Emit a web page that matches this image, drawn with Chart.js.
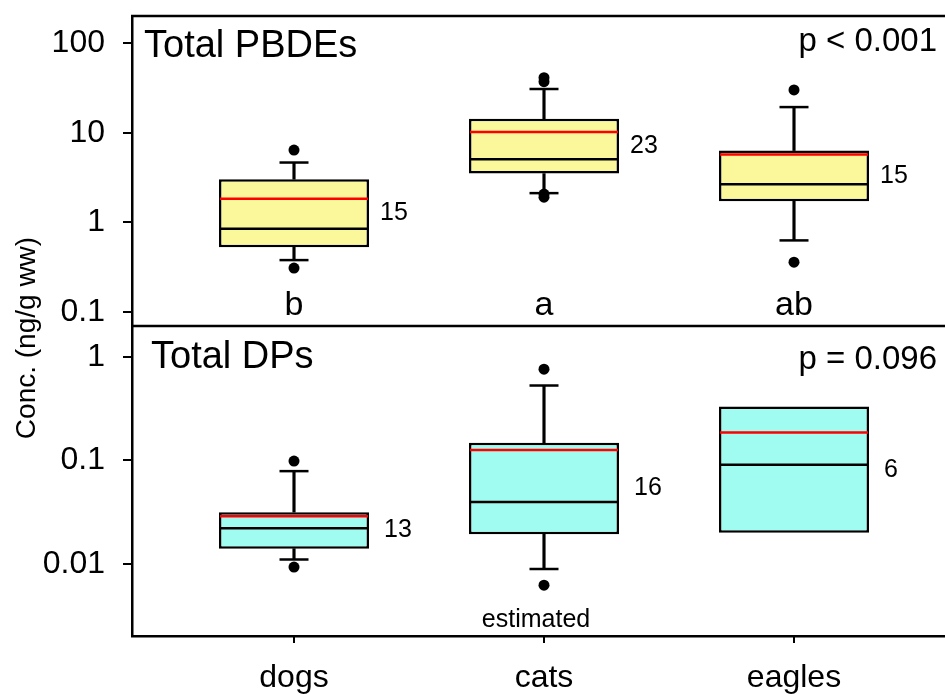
<!DOCTYPE html>
<html>
<head>
<meta charset="utf-8">
<script src="https://cdn.jsdelivr.net/npm/chart.js@4.4.1/dist/chart.umd.min.js"></script>
<style>
  html, body { margin: 0; padding: 0; background: #fff; overflow: hidden; width: 945px; height: 694px; }
  #wrap { width: 945px; height: 694px; overflow: hidden; position: relative; }
  canvas { display: block; position: absolute; left: 0; top: 0; }
</style>
</head>
<body>
<div id="wrap"><canvas id="chart" width="1000" height="694"></canvas></div>
<script>
// categorias y valores
const categories = ['dogs', 'cats', 'eagles'];

// Total PBDEs (ng/g ww)
const pbdeQ1 = [0.53, 3.5, 1.72];
const pbdeQ3 = [3.03, 14.3, 6.33];
const pbdeMedian = [0.85, 5.07, 2.67];
const pbdeMean = [1.84, 10.2, 5.71];
const pbdeWhiskerLo = [0.38, 2.12, 0.63];
const pbdeWhiskerHi = [4.65, 30.7, 19.3];
const pbdeOutliers = [[6.4, 0.31], [41, 37, 2.07, 1.91], [30, 0.36]];
const pbdeN = [15, 23, 15];
const pbdeLetters = ['b', 'a', 'ab'];

// Total DPs (ng/g ww)
const dpQ1 = [0.014, 0.0193, 0.020];
const dpQ3 = [0.0316, 0.148, 0.332];
const dpMedian = [0.0221, 0.0395, 0.0906];
const dpMean = [0.0289, 0.126, 0.186];
const dpWhiskerLo = [0.011, 0.0089, null];
const dpWhiskerHi = [0.0788, 0.531, null];
const dpOutliers = [[0.0985, 0.0093], [0.765, 0.0062], []];
const dpN = [13, 16, 6];

const topTicks = [0.1, 1, 10, 100];
const bottomTicks = [0.01, 0.1, 1];

const FONT = "'Liberation Sans', Arial, sans-serif";
Chart.defaults.color = '#000';
Chart.defaults.font.family = FONT;

// Construye los datasets de un panel de cajas
function boxDatasets(axis, fill, q1, q3, med, mean, lo, hi, outliers) {
    const stems = [], caps = [], dots = [];
    categories.forEach((c, i) => {
        if (hi[i] != null) {
            stems.push({x: i + 1, y: [q3[i], hi[i]]}, {x: i + 1, y: [lo[i], q1[i]]});
            caps.push({x: i + 1, y: hi[i]}, {x: i + 1, y: lo[i]});
        }
        outliers[i].forEach(v => dots.push({x: i + 1, y: v}));
    });
    return [
        {
            type: 'bar', xAxisID: 'x', yAxisID: axis,
            data: categories.map((c, i) => ({x: i + 1, y: [q1[i], q3[i]]})),
            backgroundColor: fill, borderColor: '#000', borderWidth: 2.5, borderSkipped: false,
            grouped: false, categoryPercentage: 1, barPercentage: 0.6, order: 5
        },
        {
            type: 'bar', xAxisID: 'x', yAxisID: axis, data: stems,
            backgroundColor: '#000', borderWidth: 0, barThickness: 2.5, grouped: false, order: 6
        },
        {
            type: 'scatter', xAxisID: 'x', yAxisID: axis, data: caps, showLine: false,
            pointStyle: 'line', pointRadius: 14.5, pointBorderWidth: 2.5, pointBorderColor: '#000', order: 3
        },
        {
            type: 'scatter', xAxisID: 'x', yAxisID: axis, data: categories.map((c, i) => ({x: i + 1, y: med[i]})), showLine: false,
            pointStyle: 'line', pointRadius: 74, pointBorderWidth: 2.5, pointBorderColor: '#000', order: 2
        },
        {
            type: 'scatter', xAxisID: 'x', yAxisID: axis, data: categories.map((c, i) => ({x: i + 1, y: mean[i]})), showLine: false,
            pointStyle: 'line', pointRadius: 74, pointBorderWidth: 2.5, pointBorderColor: '#ff0000', order: 1
        },
        {
            type: 'scatter', xAxisID: 'x', yAxisID: axis, data: dots, showLine: false,
            pointStyle: 'circle', pointRadius: 5.5, pointBorderWidth: 0, pointBackgroundColor: '#000', order: 0
        }
    ];
}

const datasets = [
    ...boxDatasets('yTop', '#fbf89b', pbdeQ1, pbdeQ3, pbdeMedian, pbdeMean, pbdeWhiskerLo, pbdeWhiskerHi, pbdeOutliers),
    ...boxDatasets('yBot', '#a0fcf0', dpQ1, dpQ3, dpMedian, dpMean, dpWhiskerLo, dpWhiskerHi, dpOutliers)
];

// Textos del grafico (titulos, n, letras, p)
const annotate = {
    id: 'annotate',
    afterDraw(chart) {
        const {ctx, chartArea, scales} = chart;
        const yt = scales.yTop, yb = scales.yBot, x = scales.x;
        ctx.save();
        ctx.strokeStyle = '#000';
        ctx.lineWidth = 2.5;
        [yt.top, yt.bottom].forEach(py => {
            ctx.beginPath();
            ctx.moveTo(chartArea.left - 1, py);
            ctx.lineTo(chartArea.right, py);
            ctx.stroke();
        });
        // marcas del eje x bajo cada categoria
        ctx.lineWidth = 2;
        categories.forEach((c, i) => {
            const px = Math.round(x.getPixelForValue(i + 1));
            ctx.beginPath();
            ctx.moveTo(px, chartArea.bottom);
            ctx.lineTo(px, chartArea.bottom + 7);
            ctx.stroke();
        });

        ctx.fillStyle = '#000';
        ctx.textBaseline = 'alphabetic';
        ctx.font = '38px ' + FONT;
        ctx.textAlign = 'left';
        ctx.fillText('Total PBDEs', chartArea.left + 12, yt.top + 41);
        ctx.fillText('Total DPs', chartArea.left + 19, yb.top + 42);

        ctx.font = '33px ' + FONT;
        ctx.textAlign = 'right';
        ctx.fillText('p < 0.001', 937, yt.top + 35);
        ctx.fillText('p = 0.096', 937, yb.top + 43);

        // n junto a cada caja, a media altura (log) de la caja
        const nLabels = (axisScale, metaIdx, q1, q3, ns, gap) => {
            const meta = chart.getDatasetMeta(metaIdx);
            ctx.font = '25px ' + FONT;
            ctx.textAlign = 'left';
            ctx.textBaseline = 'middle';
            ns.forEach((n, i) => {
                const bar = meta.data[i];
                const mid = Math.sqrt(q1[i] * q3[i]);
                ctx.fillText(String(n), bar.x + bar.width / 2 + gap, axisScale.getPixelForValue(mid));
            });
        };
        nLabels(yt, 0, pbdeQ1, pbdeQ3, pbdeN, 11);
        nLabels(yb, 6, dpQ1, dpQ3, dpN, 15);

        ctx.font = '34px ' + FONT;
        ctx.textAlign = 'center';
        ctx.textBaseline = 'alphabetic';
        pbdeLetters.forEach((l, i) => {
            ctx.fillText(l, x.getPixelForValue(i + 1), yt.bottom - 11);
        });

        ctx.font = '25px ' + FONT;
        ctx.fillText('estimated', x.getPixelForValue(2) - 8, yb.bottom - 9);

        ctx.translate(27, 338);
        ctx.rotate(-Math.PI / 2);
        ctx.font = '28px ' + FONT;
        ctx.textBaseline = 'middle';
        ctx.fillText('Conc. (ng/g ww)', 0, 0);
        ctx.restore();
    }
};

const noPadding = s => {
    s.paddingTop = 0; s.paddingBottom = 0; s.paddingLeft = 0; s.paddingRight = 0;
};

const yAxis = (min, max, ticks) => ({
    type: 'logarithmic',
    position: 'left',
    stack: 'panels',
    stackWeight: 1,
    min: min,
    max: max,
    afterBuildTicks: s => { s.ticks = ticks.map(v => ({value: v})); },
    afterFit: s => { s.width = 132; noPadding(s); },
    ticks: {
        autoSkip: false,
        font: {size: 32},
        padding: 18,
        callback: v => String(v)
    },
    grid: {drawOnChartArea: false, tickLength: 9, color: '#000', lineWidth: 2},
    border: {display: true, color: '#000', width: 2.5}
});

new Chart(document.getElementById('chart'), {
    type: 'bar',
    data: {datasets: datasets},
    options: {
        responsive: false,
        animation: false,
        events: [],
        layout: {autoPadding: false, padding: {top: 16, left: 0, right: 0, bottom: 0}},
        plugins: {legend: {display: false}, tooltip: {enabled: false}},
        scales: {
            // el eje definido primero queda abajo en la pila
            yBot: yAxis(0.002, 2, bottomTicks),
            yTop: yAxis(0.07, 200, topTicks),
            x: {
                type: 'linear',
                offset: false,
                min: 0.352,
                max: 3.824,
                afterBuildTicks: s => { s.ticks = categories.map((c, i) => ({value: i + 1})); },
                afterFit: s => { s.height = 58; noPadding(s); },
                ticks: {
                    autoSkip: false,
                    maxRotation: 0,
                    font: {size: 32},
                    padding: 15,
                    callback: v => categories[v - 1]
                },
                grid: {display: false},
                border: {display: true, color: '#000', width: 2.5}
            }
        }
    },
    plugins: [annotate]
});
</script>
</body>
</html>
